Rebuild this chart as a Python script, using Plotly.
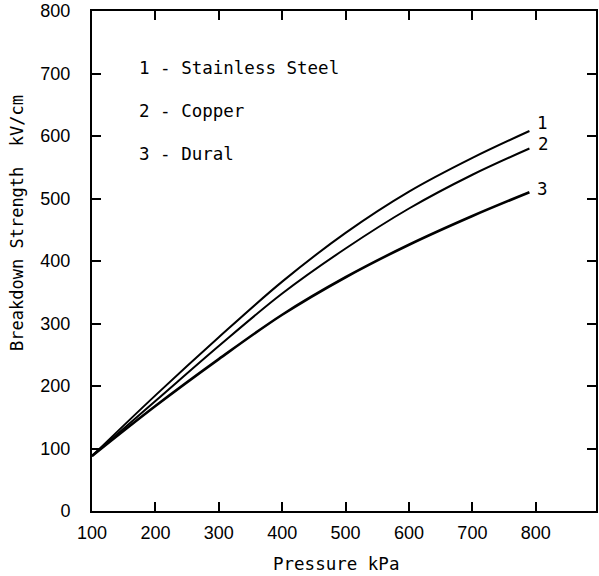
import plotly.graph_objects as go

pressure = [100, 200, 300, 400, 500, 600, 700, 790]
steel = [88, 185, 278, 367, 445, 511, 565, 608]
copper = [88, 176, 264, 348, 420, 484, 538, 580]
dural = [88, 168, 243, 314, 374, 426, 472, 510]
curve_labels = ["1", "2", "3"]
legend_lines = ["1 - Stainless Steel", "2 - Copper", "3 - Dural"]
x_ticks = [100, 200, 300, 400, 500, 600, 700, 800]
y_ticks = [0, 100, 200, 300, 400, 500, 600, 700, 800]

MONO = "DejaVu Sans Mono"
fig = go.Figure()
series = [steel, copper, dural]
widths = [2, 2, 2.6]
for s, w in zip(series, widths):
    fig.add_trace(go.Scatter(x=pressure, y=s, mode="lines", line=dict(color="black", width=w, shape="spline", smoothing=1.0), showlegend=False, hoverinfo="skip"))

shifts = [(8, 8), (9, 5), (8, 3)]
for lab, s, (dx, dy) in zip(curve_labels, series, shifts):
    fig.add_annotation(x=pressure[-1], y=s[-1], text=lab, showarrow=False, xanchor="left", yanchor="middle",
                       xshift=dx - 2, yshift=dy, font=dict(family=MONO, size=17.5, color="black"))

ys = [0.886, 0.800, 0.715]
for t, yp in zip(legend_lines, ys):
    fig.add_annotation(xref="paper", yref="paper", x=0.089, y=yp, text=t, showarrow=False, xanchor="left", yanchor="middle",
                       font=dict(family=MONO, size=17.5, color="black"))

fig.add_annotation(xref="paper", yref="paper", x=-0.15, y=0.577, text="Breakdown Strength  kV/cm", textangle=-90,
                   showarrow=False, xanchor="center", yanchor="middle", font=dict(family=MONO, size=17, color="black"))
fig.add_annotation(xref="paper", yref="paper", x=0.485, y=-0.106, text="Pressure kPa",
                   showarrow=False, xanchor="center", yanchor="middle", font=dict(family=MONO, size=17.5, color="black"))

axis_common = dict(showgrid=False, zeroline=False, showline=True, linecolor="black", linewidth=2, mirror="ticks",
                   ticks="inside", ticklen=9, tickwidth=2, tickcolor="black",
                   tickfont=dict(family="Liberation Sans", size=18, color="black"))
fig.update_xaxes(range=[100, 895], tickvals=x_ticks, ticklabelstandoff=4, **axis_common)
fig.update_yaxes(range=[0, 800], tickvals=y_ticks, ticklabelstandoff=16, **axis_common)

fig.update_layout(width=599, height=576, margin=dict(l=92, r=1, t=10, b=65), plot_bgcolor="white", paper_bgcolor="white")
fig.write_html("out.html")
